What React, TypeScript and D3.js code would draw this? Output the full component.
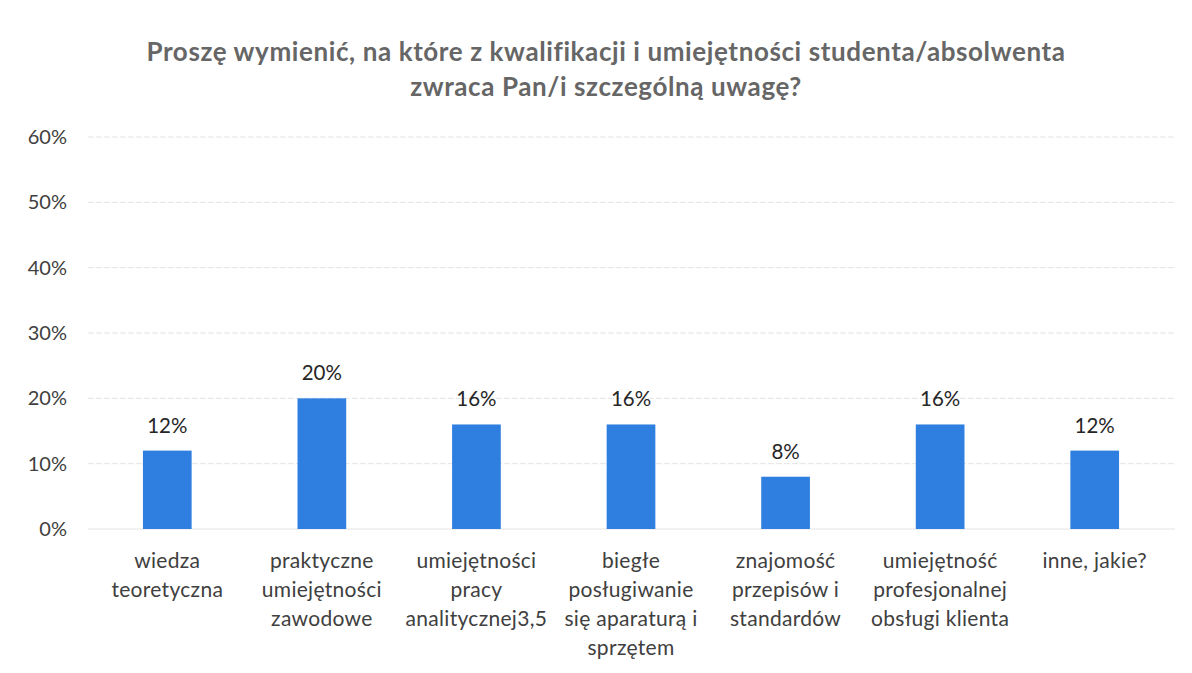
import React from "react";
import * as d3 from "d3";

const categories: string[][] = [
  ["wiedza", "teoretyczna"],
  ["praktyczne", "umiejętności", "zawodowe"],
  ["umiejętności", "pracy", "analitycznej3,5"],
  ["biegłe", "posługiwanie", "się aparaturą i", "sprzętem"],
  ["znajomość", "przepisów i", "standardów"],
  ["umiejętność", "profesjonalnej", "obsługi klienta"],
  ["inne, jakie?"],
];
const values: number[] = [0.12, 0.2, 0.16, 0.16, 0.08, 0.16, 0.12];
const yTicks: number[] = [0, 0.1, 0.2, 0.3, 0.4, 0.5, 0.6];
const titleLines: string[] = [
  "Proszę wymienić, na które z kwalifikacji i umiejętności studenta/absolwenta",
  "zwraca Pan/i szczególną uwagę?",
];

const W = 1192;
const H = 673;
const FONT = "Lato, 'Open Sans', sans-serif";

export default function App() {
  const x = d3
    .scaleBand<number>()
    .domain(values.map((_, i) => i))
    .range([90, 1172])
    .paddingInner(0.685)
    .paddingOuter(0.3425);
  const y = d3.scaleLinear().domain([0, 0.6]).range([529, 137]);
  const fmt = d3.format(".0%");

  return (
    <svg
      width={W}
      height={H}
      style={{ position: "absolute", left: 0, top: 0, background: "#fff" }}
      fontFamily={FONT}
    >
      <rect x={0} y={0} width={W} height={H} fill="#fff" />
      {titleLines.map((t, i) => (
        <text
          key={i}
          x={606}
          y={61 + i * 35}
          textAnchor="middle"
          fontSize={26}
          letterSpacing={0.6}
          fontWeight="bold"
          fill="#666666"
        >
          {t}
        </text>
      ))}
      {yTicks.map((t) => (
        <g key={t}>
          <line
            x1={88}
            x2={1175}
            y1={y(t)}
            y2={y(t)}
            stroke="#e4e4e4"
            strokeWidth={1}
            strokeDasharray={t === 0 ? undefined : "6 2"}
          />
          <text
            x={67}
            y={y(t)}
            dy="0.35em"
            textAnchor="end"
            fontSize={20}
            fill="#404040"
          >
            {fmt(t)}
          </text>
        </g>
      ))}
      {values.map((v, i) => (
        <g key={i}>
          <rect
            x={x(i)}
            y={y(v)}
            width={x.bandwidth()}
            height={y(0) - y(v)}
            fill="#2F7FE0"
          />
          <text
            x={(x(i) as number) + x.bandwidth() / 2}
            y={y(v) - 18}
            textAnchor="middle"
            fontSize={20.5}
            fill="#262626"
          >
            {fmt(v)}
          </text>
          {categories[i].map((line, j) => (
            <text
              key={j}
              x={(x(i) as number) + x.bandwidth() / 2}
              y={568 + j * 29}
              textAnchor="middle"
              fontSize={21}
              letterSpacing={0.3}
              fill="#404040"
            >
              {line}
            </text>
          ))}
        </g>
      ))}
    </svg>
  );
}
